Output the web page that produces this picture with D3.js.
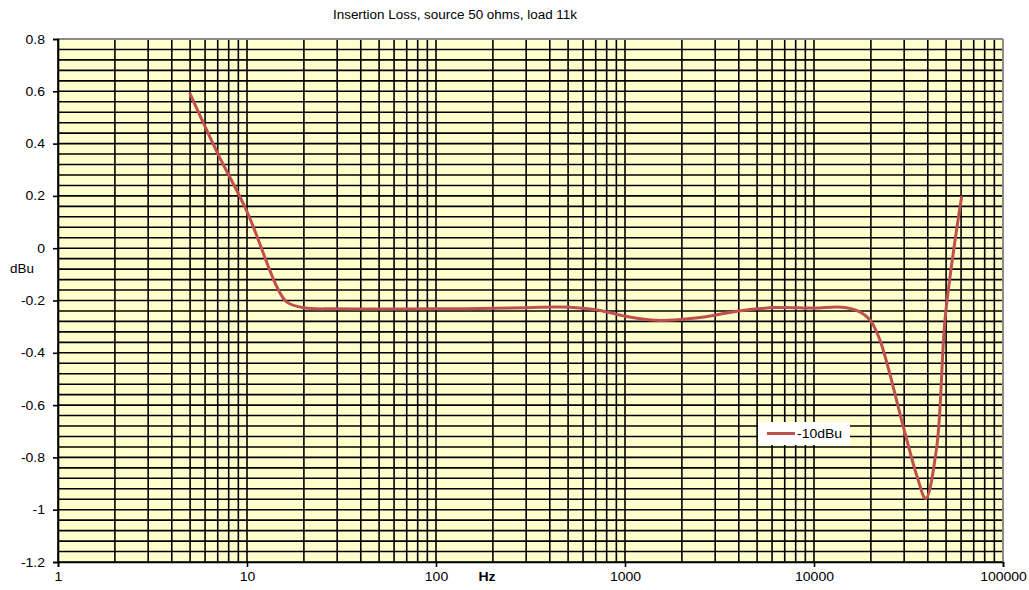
<!DOCTYPE html>
<html>
<head>
<meta charset="utf-8">
<script src="https://cdn.jsdelivr.net/npm/d3@7"></script>
<style>
  html, body { margin: 0; padding: 0; background: #fff; }
  text { font-family: Arial, "Liberation Sans", sans-serif; }
</style>
</head>
<body>
<svg id="chart" width="1029" height="590"></svg>
<script>
const chartTitle = "Insertion Loss, source 50 ohms, load 11k";
const seriesName = "-10dBu";
const freqs = [5, 7, 10, 14.4, 16.2, 20, 30, 100, 300, 450, 700, 1000, 1470, 2500, 4000, 6300, 10000, 14000, 17000, 19800, 22350, 29700, 35000, 39000, 44600, 49300, 55000, 60400];
const values = [0.59, 0.362, 0.14, -0.148, -0.205, -0.228, -0.232, -0.232, -0.228, -0.225, -0.235, -0.26, -0.276, -0.265, -0.24, -0.227, -0.229, -0.226, -0.24, -0.275, -0.352, -0.683, -0.87, -0.957, -0.76, -0.275, 0.0, 0.196];
const xTickValues = [1, 10, 100, 1000, 10000, 100000];
const xTickLabels = ["1", "10", "100", "1000", "10000", "100000"];
const yTickValues = [0.8, 0.6, 0.4, 0.2, 0, -0.2, -0.4, -0.6, -0.8, -1, -1.2];
const yTickLabels = ["0.8", "0.6", "0.4", "0.2", "0", "-0.2", "-0.4", "-0.6", "-0.8", "-1", "-1.2"];

const svg = d3.select("#chart");
const L = 58, R = 1003, T = 39, B = 562;
const FONT = "Arial, 'Liberation Sans', sans-serif";

const x = d3.scaleLog().domain([1, 100000]).range([L, R]);
const y = d3.scaleLinear().domain([-1.2, 0.8]).range([B, T]);

// background
svg.append("rect").attr("x", L).attr("y", T).attr("width", R - L).attr("height", B - T).attr("fill", "#FFFFCC");

// horizontal grid (every 0.04)
const hGrid = d3.range(0, 51).map(i => -1.2 + i * 0.04);
svg.append("g").selectAll("line").data(hGrid).join("line")
  .attr("x1", L).attr("x2", R)
  .attr("y1", d => y(d)).attr("y2", d => y(d))
  .attr("stroke", "#000").attr("stroke-width", 1.6);

// vertical grid
const vGrid = [];
for (let dec = 1; dec < 100000; dec *= 10) for (let m = 1; m <= 9; m++) vGrid.push(dec * m);
vGrid.push(100000);
svg.append("g").selectAll("line").data(vGrid).join("line")
  .attr("x1", d => x(d)).attr("x2", d => x(d))
  .attr("y1", T).attr("y2", B)
  .attr("stroke", "#000").attr("stroke-width", 1.6);

// top and right borders (gray)
svg.append("line").attr("x1", L).attr("x2", R).attr("y1", T).attr("y2", T).attr("stroke", "#8c8c8c").attr("stroke-width", 2);
svg.append("line").attr("x1", R).attr("x2", R).attr("y1", T).attr("y2", B).attr("stroke", "#8c8c8c").attr("stroke-width", 2);

// axes
const yAxis = d3.axisLeft(y).tickValues(yTickValues).tickFormat((d, i) => yTickLabels[i]).tickSize(5).tickPadding(8);
const gy = svg.append("g").attr("transform", `translate(${L},0)`).call(yAxis);
gy.select(".domain").attr("stroke", "#000").attr("stroke-width", 1.6);
gy.selectAll(".tick line").attr("stroke", "#000").attr("stroke-width", 1.6);
gy.selectAll(".tick text").attr("font-size", 12.5).attr("fill", "#000").attr("font-family", FONT);

const xAxis = d3.axisBottom(x).tickValues(xTickValues).tickFormat((d, i) => xTickLabels[i]).tickSize(5).tickPadding(5);
const gx = svg.append("g").attr("transform", `translate(0,${B})`).call(xAxis);
gx.select(".domain").attr("stroke", "#000").attr("stroke-width", 1.6);
gx.selectAll(".tick line").attr("stroke", "#000").attr("stroke-width", 1.6);
gx.selectAll(".tick text").attr("font-size", 12.5).attr("fill", "#000").attr("font-family", FONT);

// data line
const data = freqs.map((f, i) => ({ f, v: values[i] }));
const line = d3.line().x(d => x(d.f)).y(d => y(d.v)).curve(d3.curveCatmullRom.alpha(0.5));
svg.append("path").datum(data).attr("d", line)
  .attr("fill", "none").attr("stroke", "#C0504D").attr("stroke-width", 3).attr("stroke-linejoin", "round").attr("stroke-linecap", "round");

// title
svg.append("text").attr("x", 455).attr("y", 18.5).attr("text-anchor", "middle").attr("font-size", 12).text(chartTitle);
// axis titles
svg.append("text").attr("x", 22).attr("y", 273).attr("text-anchor", "middle").attr("font-size", 12).text("dBu");
svg.append("text").attr("x", 487).attr("y", 581).attr("text-anchor", "middle").attr("font-size", 12.5).attr("font-weight", "bold").text("Hz");

// legend
const lg = svg.append("g");
lg.append("rect").attr("x", 758).attr("y", 422).attr("width", 92).attr("height", 23).attr("fill", "#fff");
lg.append("line").attr("x1", 767).attr("x2", 795).attr("y1", 433.5).attr("y2", 433.5).attr("stroke", "#C0504D").attr("stroke-width", 3).attr("stroke-linecap", "butt");
lg.append("text").attr("x", 797).attr("y", 438).attr("font-size", 12.5).text(seriesName);

// widen glyphs slightly to match the reference's wider text rendering
svg.selectAll("text").each(function () {
  const w = this.getComputedTextLength();
  if (w > 0) d3.select(this).attr("textLength", w * 1.12).attr("lengthAdjust", "spacingAndGlyphs");
});
</script>
</body>
</html>
